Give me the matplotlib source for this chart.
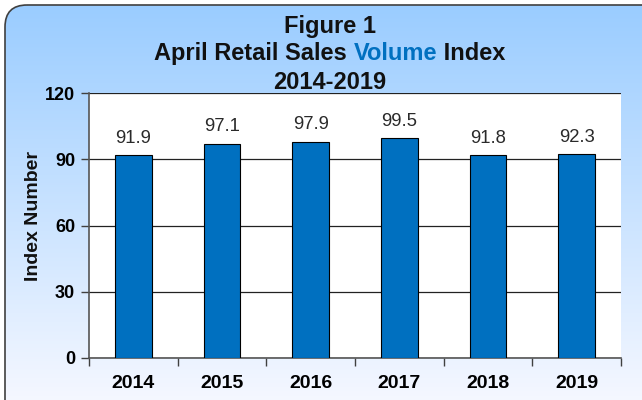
import numpy as np
import matplotlib
matplotlib.use('Agg')
import matplotlib.pyplot as plt
from matplotlib.patches import FancyBboxPatch
from matplotlib.ticker import FixedLocator

# data
years = ['2014', '2015', '2016', '2017', '2018', '2019']
volume_index = [91.9, 97.1, 97.9, 99.5, 91.8, 92.3]
y_ticks = [0, 30, 60, 90, 120]

BAR_BLUE = '#0070C0'
W, H = 642, 400

plt.rcParams['font.family'] = ['Liberation Sans', 'DejaVu Sans']

fig = plt.figure(figsize=(W / 100, H / 100), dpi=100)
fig.patch.set_facecolor('white')

# background panel with vertical gradient and rounded border
bg = fig.add_axes([0, 0, 1, 1])
bg.set_xlim(0, W)
bg.set_ylim(H, 0)
bg.axis('off')
grad = np.linspace(0, 1, 256)[:, None]
top = np.array([0.60, 0.80, 1.00])
bot = np.array([0.96, 0.97, 1.00])
img = top[None, None, :] * (1 - grad[:, :, None]) + bot[None, None, :] * grad[:, :, None]
im = bg.imshow(img, extent=[0, W, H, 0], aspect='auto', zorder=0)
panel = FancyBboxPatch((5, 5), 680, 420, boxstyle='round,pad=0,rounding_size=22',
                       facecolor='none', edgecolor='#404040', linewidth=1.2, zorder=2)
bg.add_patch(panel)
im.set_clip_path(panel)

# main plot
ax = fig.add_axes([89 / W, 42 / H, 532 / W, 265 / H])
ax.set_facecolor('white')
x = np.arange(len(years))
bars = ax.bar(x, volume_index, width=0.41, color=BAR_BLUE, edgecolor='black',
              linewidth=0.8, zorder=3)
for xi, v in zip(x, volume_index):
    ax.annotate(f'{v}', (xi, v), xytext=(0, 6), textcoords='offset points',
                ha='center', va='bottom', fontsize=13.3, color='#2a2a2a')

ax.set_xlim(-0.5, len(years) - 0.5)
ax.set_ylim(0, 120)
ax.set_yticks(y_ticks)
ax.set_yticklabels([str(t) for t in y_ticks], fontsize=13, fontweight='bold')
ax.set_xticks(x)
ax.set_xticklabels(years, fontsize=14, fontweight='bold')
ax.xaxis.set_minor_locator(FixedLocator(np.arange(-0.5, len(years), 1.0)))
ax.tick_params(axis='x', which='major', length=0, pad=12)
ax.tick_params(axis='x', which='minor', length=6, width=1, color='#404040', direction='out')
ax.tick_params(axis='y', length=6, width=1, color='#404040', direction='out', pad=4)
ax.grid(axis='y', color='#222222', linewidth=0.9, zorder=1)
ax.set_axisbelow(True)
for side in ['top', 'right']:
    ax.spines[side].set_visible(False)
for side in ['left', 'bottom']:
    ax.spines[side].set_color('#555555')
    ax.spines[side].set_linewidth(1.2)

fig.text(34 / W, 1 - 216 / H, 'Index Number', rotation=90, ha='center', va='center',
         fontsize=14, fontweight='bold', color='#111111')

# title
cx = 330 / W
fig.text(cx, 1 - 33 / H, 'Figure 1', ha='center', va='baseline',
         fontsize=17, fontweight='bold', color='#111111')
fig.text(cx, 1 - 89 / H, '2014-2019', ha='center', va='baseline',
         fontsize=17, fontweight='bold', color='#111111')

parts = [('April Retail Sales ', '#111111'), ('Volume', BAR_BLUE), (' Index', '#111111')]
renderer = fig.canvas.get_renderer()
texts = []
for s, c in parts:
    t = fig.text(0, 1 - 60 / H, s, ha='left', va='baseline', fontsize=17,
                 fontweight='bold', color=c)
    texts.append(t)
widths = [t.get_window_extent(renderer).width for t in texts]
xpos = cx * W - sum(widths) / 2
for t, w in zip(texts, widths):
    t.set_x(xpos / W)
    xpos += w

fig.savefig('out.png', dpi=100)
